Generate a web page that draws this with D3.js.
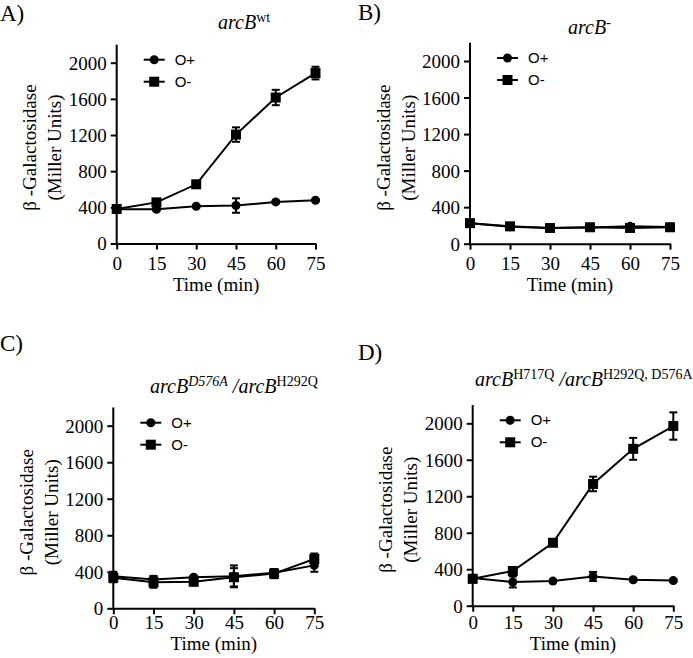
<!DOCTYPE html>
<html lang="en">
<head>
  <meta charset="UTF-8" />
  <title>arcB beta-galactosidase time course</title>
  <script src="https://d3js.org/d3.v7.min.js"></script>
  <style>
    body {
      margin: 0;
      padding: 0;
      background: white;
    }
    svg {
      display: block;
      font-family: "Liberation Serif", "Times New Roman", serif;
    }
  </style>
</head>
<body>
  <svg id="chart" width="693" height="658"></svg>

  <script>
    // time points (min) and axis ticks
    const times = [0, 15, 30, 45, 60, 75];
    const yTicks = [0, 400, 800, 1200, 1600, 2000];
    const seriesNames = ["O+", "O-"];

    // A) arcB wt
    const aOxy = [380, 378, 412, 420, 460, 478];
    const aOxyErr = [15, 12, 12, 80, 15, 12];
    const aAnox = [382, 455, 655, 1205, 1615, 1885];
    const aAnoxErr = [15, 20, 25, 80, 85, 70];

    // B) arcB-
    const bOxy = [225, 185, 172, 178, 190, 182];
    const bOxyErr = [20, 20, 15, 15, 15, 15];
    const bAnox = [225, 190, 172, 180, 172, 180];
    const bAnoxErr = [20, 30, 20, 25, 35, 25];

    // C) arcB D576A / arcB H292Q
    const cOxy = [350, 315, 340, 350, 390, 470];
    const cOxyErr = [50, 40, 20, 120, 40, 70];
    const cAnox = [335, 285, 290, 340, 380, 540];
    const cAnoxErr = [50, 60, 30, 100, 50, 60];

    // D) arcB H717Q / arcB H292Q, D576A
    const dOxy = [305, 260, 270, 320, 285, 275];
    const dOxyErr = [30, 60, 15, 50, 15, 15];
    const dAnox = [295, 380, 690, 1335, 1720, 1970];
    const dAnoxErr = [40, 30, 30, 80, 120, 150];

    const panels = [
      { letter: "A)", lx: 0, ly: 21, x0: 116.7, x1: 315.5, y0: 243.5, y2000: 62.7,
        tickDy: 26.5, timeDy: 47, titleX: 218, titleY: 29,
        title: [{ t: "arcB", it: true }, { t: "wt", sup: true }],
        oxy: aOxy, oxyErr: aOxyErr, anox: aAnox, anoxErr: aAnoxErr },
      { letter: "B)", lx: 358, ly: 20, x0: 470, x1: 670, y0: 243.7, y2000: 61,
        tickDy: 26, timeDy: 47, titleX: 568, titleY: 34,
        title: [{ t: "arcB", it: true }, { t: "-", sup: true, it: true }],
        oxy: bOxy, oxyErr: bOxyErr, anox: bAnox, anoxErr: bAnoxErr },
      { letter: "C)", lx: 0, ly: 351, x0: 113.3, x1: 314.3, y0: 608.3, y2000: 425.7,
        tickDy: 21, timeDy: 42, titleX: 150, titleY: 393,
        title: [{ t: "arcB", it: true }, { t: "D576A", sup: true, it: true }, { t: " /", it: true },
                { t: "arcB", it: true }, { t: "H292Q", sup: true }],
        oxy: cOxy, oxyErr: cOxyErr, anox: cAnox, anoxErr: cAnoxErr },
      { letter: "D)", lx: 358, ly: 360, x0: 472.7, x1: 673.3, y0: 605.7, y2000: 423.3,
        tickDy: 23, timeDy: 44, titleX: 475, titleY: 386,
        title: [{ t: "arcB", it: true }, { t: "H717Q", sup: true }, { t: " /", it: true },
                { t: "arcB", it: true }, { t: "H292Q, D576A", sup: true }],
        oxy: dOxy, oxyErr: dOxyErr, anox: dAnox, anoxErr: dAnoxErr }
    ];

    const svg = d3.select("#chart");
    const fmt = d3.format("d");

    panels.forEach(p => {
      const x = d3.scaleLinear().domain([0, 75]).range([p.x0, p.x1]);
      const y = d3.scaleLinear().domain([0, 2000]).range([p.y0, p.y2000]);
      const g = svg.append("g");

      // panel letter
      g.append("text")
        .attr("x", p.lx).attr("y", p.ly)
        .style("font-size", "23px")
        .text(p.letter);

      // title with superscripts
      const title = g.append("text")
        .attr("x", p.titleX).attr("y", p.titleY)
        .style("font-size", "20px");
      let raised = false;
      p.title.forEach(part => {
        const ts = title.append("tspan")
          .text(part.t)
          .style("font-style", part.it ? "italic" : "normal");
        if (part.sup) {
          ts.style("font-size", "14px").attr("dy", raised ? 0 : -7);
          raised = true;
        } else {
          if (raised) ts.attr("dy", 7);
          raised = false;
        }
      });

      // axes
      const yAxis = g.append("g")
        .attr("transform", `translate(${p.x0},0)`)
        .call(d3.axisLeft(y).tickValues(yTicks).tickFormat(fmt)
          .tickSize(6).tickPadding(4).tickSizeOuter(0));
      yAxis.select(".domain").attr("d", `M0,${p.y0}V${y(2200)}`);

      const xAxis = g.append("g")
        .attr("transform", `translate(0,${p.y0})`)
        .call(d3.axisBottom(x).tickValues(times).tickFormat(fmt)
          .tickSize(6).tickPadding(4).tickSizeOuter(0));

      [yAxis, xAxis].forEach(ax => {
        ax.attr("font-family", null).attr("font-size", null);
        ax.selectAll(".domain, .tick line").attr("stroke", "#000").attr("stroke-width", 2);
        ax.selectAll("text")
          .style("font-size", "19px")
          .attr("fill", "#000");
      });
      xAxis.selectAll("text").attr("y", p.tickDy).attr("dy", 0);
      yAxis.selectAll("text").attr("dy", "0.34em");

      // axis titles
      g.append("text")
        .attr("x", (p.x0 + p.x1) / 2).attr("y", p.y0 + p.timeDy)
        .attr("text-anchor", "middle")
        .style("font-size", "19px")
        .text("Time (min)");

      const yMid = p.y0 - 96;
      g.append("text")
        .attr("transform", `translate(${p.x0 - 87},${yMid}) rotate(-90)`)
        .attr("text-anchor", "middle")
        .attr("dy", "0.35em")
        .style("font-size", "19px")
        .text("β -Galactosidase");
      g.append("text")
        .attr("transform", `translate(${p.x0 - 62},${yMid}) rotate(-90)`)
        .attr("text-anchor", "middle")
        .attr("dy", "0.35em")
        .style("font-size", "19px")
        .text("(Miller Units)");

      // series
      const series = [
        { name: seriesNames[0], vals: p.oxy, errs: p.oxyErr, shape: "circle" },
        { name: seriesNames[1], vals: p.anox, errs: p.anoxErr, shape: "square" }
      ];

      const line = d3.line().x((d, i) => x(times[i])).y(d => y(d));

      series.forEach(s => {
        const sg = g.append("g");
        sg.append("path")
          .attr("d", line(s.vals))
          .attr("fill", "none")
          .attr("stroke", "#000")
          .attr("stroke-width", 2);

        s.vals.forEach((v, i) => {
          const cx = x(times[i]);
          const hi = y(v + s.errs[i]);
          const lo = y(v - s.errs[i]);
          sg.append("line")
            .attr("x1", cx).attr("x2", cx).attr("y1", hi).attr("y2", lo)
            .attr("stroke", "#000").attr("stroke-width", 2);
          [hi, lo].forEach(yy => {
            sg.append("line")
              .attr("x1", cx - 4).attr("x2", cx + 4).attr("y1", yy).attr("y2", yy)
              .attr("stroke", "#000").attr("stroke-width", 2);
          });
          drawMarker(sg, s.shape, cx, y(v));
        });
      });

      // legend
      series.forEach((s, i) => {
        const ly = p.y2000 - 3 + i * 22;
        const lx0 = p.x0 + 27;
        const lx1 = p.x0 + 48;
        g.append("line")
          .attr("x1", lx0).attr("x2", lx1).attr("y1", ly).attr("y2", ly)
          .attr("stroke", "#000").attr("stroke-width", 2);
        drawMarker(g, s.shape, (lx0 + lx1) / 2, ly);
        g.append("text")
          .attr("x", p.x0 + 58).attr("y", ly + 5)
          .style("font-family", "'Liberation Sans', Arial, sans-serif")
          .style("font-size", "15px")
          .text(s.name);
      });
    });

    function drawMarker(sel, shape, cx, cy) {
      if (shape === "circle") {
        sel.append("circle")
          .attr("cx", cx).attr("cy", cy).attr("r", 4.5)
          .attr("fill", "#000");
      } else {
        sel.append("rect")
          .attr("x", cx - 5).attr("y", cy - 5)
          .attr("width", 10).attr("height", 10)
          .attr("fill", "#000");
      }
    }
  </script>
</body>
</html>
